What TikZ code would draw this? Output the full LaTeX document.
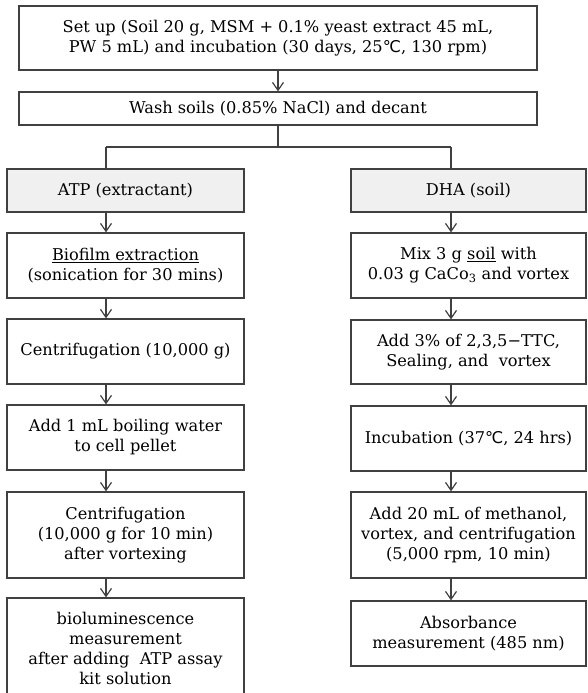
\documentclass[tikz,border=0pt]{standalone}
\usepackage{fontspec}
\setmainfont{DejaVu Serif}
\newfontfamily\symfont{DejaVu Sans}
\usetikzlibrary{arrows.meta}
\newcommand{\degc}{{\symfont ℃}}
\begin{document}
\begin{tikzpicture}[x=1pt, y=-1pt, line width=1.2pt, draw=black!75,
    >={Straight Barb[length=8pt, width=11pt]},
    box/.style={draw=black!75, rectangle, align=center, inner sep=2pt,
        font=\fontsize{16.2}{20}\selectfont},
    leftbox/.style={box, minimum width=237pt},
    rightbox/.style={box, minimum width=235pt},
    headbox/.style={fill=black!6}]
    \clip (0,0) rectangle (587,693);

    \node[box, minimum width=518pt, minimum height=64pt] (setup) at (278,38)
        {Set up (Soil 20 g, MSM + 0.1\% yeast extract 45 mL,\\PW 5 mL) and incubation (30 days, 25\degc, 130 rpm)};
    \node[box, minimum width=518pt, minimum height=33pt] (wash) at (278,108.5)
        {Wash soils (0.85\% NaCl) and decant};

    \node[leftbox, headbox, minimum height=43pt] (atp) at (125.5,190.5) {ATP (extractant)};
    \node[leftbox, minimum height=65pt] (biofilm) at (125.5,265.5)
        {\underline{Biofilm extraction}\\(sonication for 30 mins)};
    \node[leftbox, minimum height=65pt] (centa) at (125.5,351.5) {Centrifugation (10,000 g)};
    \node[leftbox, minimum height=65pt] (boil) at (125.5,437.5)
        {Add 1 mL boiling water\\to cell pellet};
    \node[leftbox, minimum height=86pt] (centb) at (125.5,535)
        {Centrifugation\\(10,000 g for 10 min)\\after vortexing};
    \node[leftbox, minimum height=100pt] (lumin) at (125.5,648)
        {bioluminescence\\measurement\\after adding~ ATP assay\\kit solution};

    \node[rightbox, headbox, minimum height=43pt] (dha) at (468.5,190.5) {DHA (soil)};
    \node[rightbox, minimum height=65pt] (mix) at (468.5,265.5)
        {Mix 3 g \underline{soil} with\\0.03 g CaCo\textsubscript{3} and vortex};
    \node[rightbox, minimum height=64pt] (ttc) at (468.5,352)
        {Add 3\% of 2,3,5−TTC,\\Sealing, and~ vortex};
    \node[rightbox, minimum height=65pt] (incub) at (468.5,438.5)
        {Incubation (37\degc, 24 hrs)};
    \node[rightbox, minimum height=86pt] (methanol) at (468.5,535)
        {Add 20 mL of methanol,\\vortex, and centrifugation\\(5,000 rpm, 10 min)};
    \node[rightbox, minimum height=65pt] (absorb) at (468.5,633.5)
        {Absorbance\\measurement (485 nm)};

    \coordinate (lcol) at (106,0);
    \coordinate (rcol) at (451,0);
    \coordinate (split) at (278,147);

    \draw[->] (setup) -- (wash);
    \draw (wash) -- (split);
    \draw (split -| lcol) -- (split -| rcol);
    \draw (split -| lcol) -- (atp.north -| lcol);
    \draw (split -| rcol) -- (dha.north -| rcol);

    \draw[->] (atp.south -| lcol) -- (biofilm.north -| lcol);
    \draw[->] (biofilm.south -| lcol) -- (centa.north -| lcol);
    \draw[->] (centa.south -| lcol) -- (boil.north -| lcol);
    \draw[->] (boil.south -| lcol) -- (centb.north -| lcol);
    \draw[->] (centb.south -| lcol) -- (lumin.north -| lcol);

    \draw[->] (dha.south -| rcol) -- (mix.north -| rcol);
    \draw[->] (mix.south -| rcol) -- (ttc.north -| rcol);
    \draw[->] (ttc.south -| rcol) -- (incub.north -| rcol);
    \draw[->] (incub.south -| rcol) -- (methanol.north -| rcol);
    \draw[->] (methanol.south -| rcol) -- (absorb.north -| rcol);
\end{tikzpicture}
\end{document}
